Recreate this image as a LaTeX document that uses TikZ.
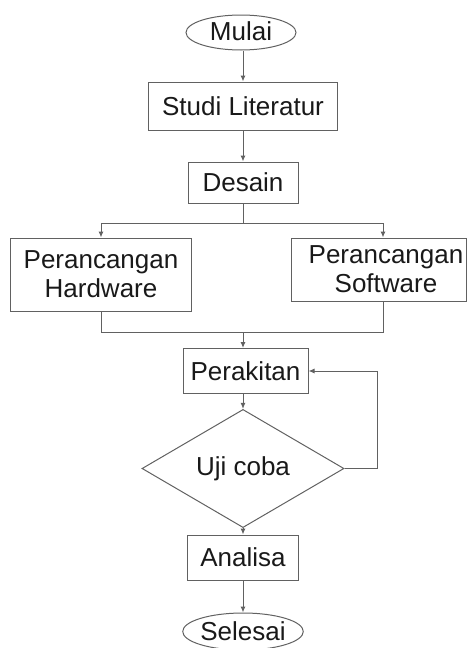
\documentclass[tikz,border=0pt]{standalone}
\usepackage{fontspec}
\setmainfont{Liberation Sans}
\usetikzlibrary{shapes.geometric,arrows.meta}
\begin{document}
\begin{tikzpicture}[x=1pt,y=-1pt,
  line/.style={draw=black!62,line width=1pt},
  arr/.style={line,-{Latex[length=6pt,width=5pt]}},
  box/.style={draw=black!62,line width=1pt,rectangle,inner sep=0pt,align=center,
    text=black!90,font=\fontsize{26}{29}\selectfont},
  oval/.style={box,ellipse},
  dia/.style={box,diamond}]
\useasboundingbox (0,0) rectangle (468,648);
\node[oval,minimum width=110pt,minimum height=35pt] (mulai) at (241,32.5) {\raisebox{2pt}{Mulai}};
\node[box,minimum width=189pt,minimum height=48pt] (studi) at (243,106) {Studi Literatur};
\node[box,minimum width=110pt,minimum height=41pt] (desain) at (243,182.5) {Desain};
\node[box,minimum width=181pt,minimum height=73pt] (hw) at (101,274.5) {Perancangan\\Hardware};
\node[box,minimum width=175pt,minimum height=63pt] (sw) at (378.5,269.5) {\hspace*{15pt}Perancangan\\\hspace*{15pt}Software};
\node[box,minimum width=125pt,minimum height=45pt] (perak) at (245.5,371) {Perakitan};
\node[dia,minimum width=202pt,minimum height=83pt] (uji) at (243,468.5) {Uji coba};
\node[box,minimum width=111pt,minimum height=45pt] (analisa) at (243,557.5) {Analisa};
\node[oval,minimum width=117pt,minimum height=37pt] (selesai) at (243,631.5) {Selesai};

\coordinate (jl) at (101,223);
\coordinate (jr) at (383,223);
\coordinate (ml) at (101,332);
\coordinate (mr) at (383,332);

\draw[arr] (studi.north |- mulai.south) -- (studi.north);
\draw[arr] (studi.south) -- (desain.north);
\draw[line] (desain.south) -- (desain.south |- jl);
\draw[line] (jl) -- (jr);
\draw[arr] (jl) -- (hw.north);
\draw[arr] (jr) -- (jr |- sw.north);
\draw[line] (hw.south) -- (ml) -- (mr) -- (mr |- sw.south);
\draw[arr] (uji.north |- ml) -- (uji.north |- perak.north);
\draw[arr] (uji.north |- perak.south) -- (uji.north);
\draw[arr] (uji.east) -- ++(33,0) |- (perak.east);
\draw[arr] (uji.south) -- (analisa.north);
\draw[arr] (analisa.south) -- (selesai.north);
\end{tikzpicture}
\end{document}
